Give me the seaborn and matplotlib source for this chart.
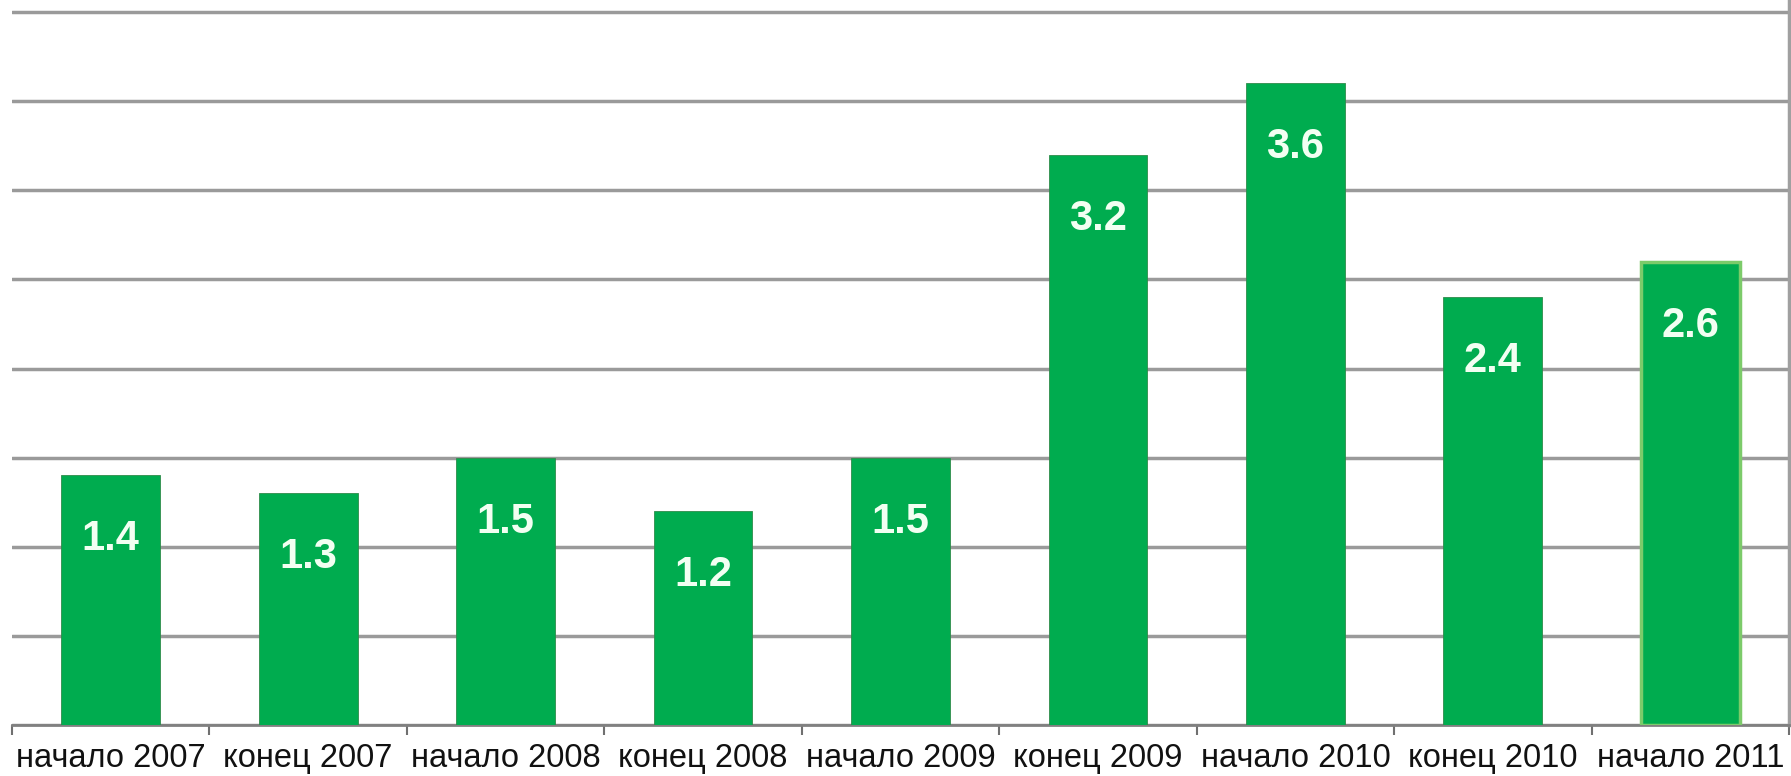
import matplotlib
matplotlib.use("Agg")
import matplotlib.pyplot as plt
import seaborn as sns
import numpy as np
import pandas as pd

categories = ["начало 2007", "конец 2007", "начало 2008", "конец 2008", "начало 2009",
              "конец 2009", "начало 2010", "конец 2010", "начало 2011"]
values = [1.4, 1.3, 1.5, 1.2, 1.5, 3.2, 3.6, 2.4, 2.6]
labels = ["1.4", "1.3", "1.5", "1.2", "1.5", "3.2", "3.6", "2.4", "2.6"]

sns.set_theme(style="white")
plt.rcParams['font.family'] = ['Liberation Sans', 'DejaVu Sans']

df = pd.DataFrame({"cat": categories, "val": values})

fig = plt.figure(figsize=(17.91, 7.76), dpi=100)
ax = fig.add_axes([12/1791, 51/776, (1789-12)/1791, 725/776])

green = "#00AC4F"
sns.barplot(data=df, x="cat", y="val", color=green, saturation=1, width=0.5,
            edgecolor="#2e8b4a", linewidth=0.6, ax=ax, zorder=3)

# highlight last bar edge
last = ax.patches[len(values) - 1]
last.set_edgecolor("#7CCB6A")
last.set_linewidth(2.5)

ax.set_xlim(-0.5, len(categories) - 0.5)
ax.set_ylim(0, 4.068)
ax.set_yticks(np.arange(0, 4.01, 0.5))
ax.set_yticklabels([])
ax.tick_params(axis="y", length=0)
ax.yaxis.grid(True, color="#9a9a9a", linewidth=2.5, zorder=0)
ax.set_axisbelow(True)
ax.xaxis.grid(False)

ax.set_xlabel("")
ax.set_ylabel("")

# tick marks at category boundaries
ax.set_xticks(np.arange(-0.5, len(categories), 1.0), minor=True)
ax.tick_params(axis="x", which="minor", length=7, width=1.5, color="#707070", direction="out", bottom=True)
ax.tick_params(axis="x", which="major", length=0, pad=13, labelsize=23.5, labelcolor="#111111")

for side in ["top", "left"]:
    ax.spines[side].set_visible(False)
ax.spines["bottom"].set_color("#808080")
ax.spines["bottom"].set_linewidth(2)
ax.spines["right"].set_color("#a0a0a0")
ax.spines["right"].set_linewidth(2.5)

for i, (v, t) in enumerate(zip(values, labels)):
    ax.annotate(t, xy=(i, v), xytext=(0, -46), textcoords="offset points",
                ha="center", va="center", color="#F2FFF2", fontsize=30,
                fontweight="bold", zorder=5)

fig.savefig("out.png", dpi=100)
